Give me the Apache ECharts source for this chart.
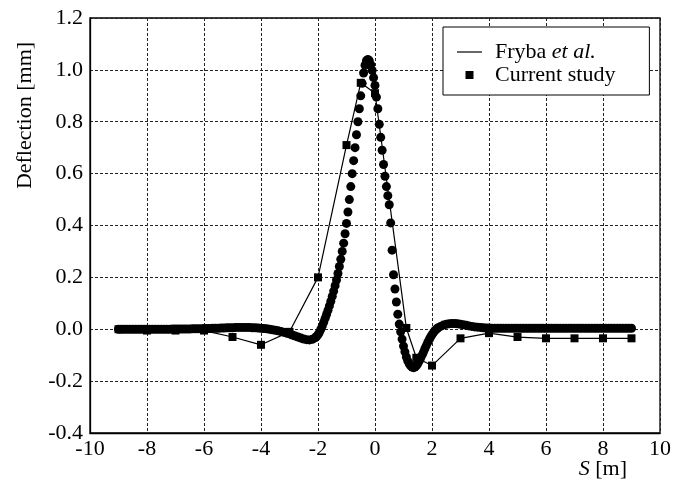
<!DOCTYPE html>
<html>
<head>
<meta charset="utf-8">
<script src="https://cdn.jsdelivr.net/npm/echarts@6/dist/echarts.min.js"></script>
<style>
html,body{margin:0;padding:0;background:#fff;}
#chart{width:674px;height:486px;}
</style>
</head>
<body>
<div id="chart"></div>
<script>
// Tick range
var xTicks = { min: -10, max: 10, step: 2 };
var yTicks = { min: -0.4, max: 1.2, step: 0.2 };

// Coarse series (thin line + squares): S [m]
var coarseS = [-9, -8, -7, -6, -5, -4, -3, -2, -1, -0.5, 0, 1.1, 1.45, 2, 3, 4, 5, 6, 7, 8, 9];
// Deflection [mm]
var coarseD = [0.0, -0.005, -0.005, -0.005, -0.03, -0.06, -0.01, 0.2, 0.71, 0.95, 0.91, 0.005, -0.11, -0.14, -0.035, -0.015, -0.03, -0.035, -0.035, -0.035, -0.035];

// Dense series (filled circles): [S, deflection]
var denseCurve = [
[-9.0,0],[-8.9,0],[-8.8,0],[-8.7,0],[-8.6,0],[-8.5,0],[-8.4,0],[-8.3,0],[-8.2,0],[-8.1,0],
[-8.0,0],[-7.9,0],[-7.8,0],[-7.7,0],[-7.6,0],[-7.5,0],[-7.4,0],[-7.3,0],[-7.2,0],[-7.1,0.001],
[-7.0,0.001],[-6.9,0.001],[-6.8,0.001],[-6.7,0.001],[-6.6,0.001],[-6.5,0.001],[-6.4,0.002],[-6.3,0.002],[-6.2,0.002],[-6.1,0.002],
[-6.0,0.003],[-5.9,0.003],[-5.8,0.003],[-5.7,0.004],[-5.6,0.004],[-5.5,0.004],[-5.4,0.005],[-5.3,0.005],[-5.2,0.006],[-5.1,0.006],
[-5.0,0.006],[-4.9,0.007],[-4.8,0.007],[-4.7,0.007],[-4.6,0.007],[-4.5,0.007],[-4.4,0.007],[-4.3,0.006],[-4.2,0.006],[-4.1,0.005],
[-4.0,0.004],[-3.9,0.003],[-3.8,0.002],[-3.7,0.0],[-3.6,-0.002],[-3.5,-0.004],[-3.4,-0.006],[-3.3,-0.009],[-3.2,-0.012],[-3.1,-0.015],
[-3.0,-0.018],[-2.9,-0.022],[-2.8,-0.026],[-2.7,-0.030],[-2.6,-0.034],[-2.5,-0.038],[-2.4,-0.040],[-2.3,-0.041],[-2.2,-0.039],[-2.1,-0.033],
[-2.05,-0.028],[-2.0,-0.021],[-1.95,-0.012],[-1.9,0.0],[-1.85,0.013],[-1.8,0.027],[-1.75,0.042],[-1.7,0.057],[-1.65,0.073],[-1.6,0.090],
[-1.55,0.108],[-1.5,0.127],[-1.45,0.147],[-1.4,0.168],[-1.35,0.190],[-1.3,0.215],[-1.25,0.242],[-1.2,0.270],[-1.15,0.300],[-1.1,0.332],
[-1.05,0.368],[-1.0,0.408],[-0.95,0.452],[-0.9,0.500],[-0.85,0.550],[-0.8,0.600],[-0.75,0.650],[-0.7,0.700],[-0.65,0.750],[-0.6,0.800],
[-0.55,0.850],[-0.5,0.900],[-0.45,0.948],[-0.4,0.988],[-0.35,1.018],[-0.3,1.035],[-0.25,1.040],[-0.2,1.035],[-0.15,1.020],[-0.1,0.998],
[-0.05,0.970],[0.0,0.940],[0.05,0.895],[0.1,0.850],[0.15,0.790],[0.2,0.740],[0.25,0.690],[0.3,0.635],[0.35,0.590],[0.4,0.550],
[0.45,0.515],[0.5,0.480],[0.55,0.410],[0.6,0.305],[0.65,0.210],[0.7,0.155],[0.75,0.105],[0.8,0.058],[0.85,0.020],[0.9,-0.010],
[0.95,-0.038],[1.0,-0.065],[1.05,-0.087],[1.1,-0.107],[1.15,-0.122],[1.2,-0.133],[1.25,-0.141],[1.3,-0.146],[1.35,-0.148],[1.4,-0.146],
[1.45,-0.141],[1.5,-0.133],[1.55,-0.123],[1.6,-0.112],[1.65,-0.100],[1.7,-0.088],[1.75,-0.075],[1.8,-0.063],[1.85,-0.051],[1.9,-0.040],
[1.95,-0.030],[2.0,-0.021],[2.05,-0.013],[2.1,-0.006],[2.15,0.0],[2.2,0.005],[2.3,0.011],[2.4,0.016],[2.5,0.019],[2.6,0.021],
[2.7,0.022],[2.8,0.022],[2.9,0.021],[3.0,0.019],[3.1,0.017],[3.2,0.015],[3.3,0.013],[3.4,0.011],[3.5,0.009],[3.6,0.008],
[3.7,0.007],[3.8,0.006],[3.9,0.005],[4.0,0.005],[4.1,0.004],[4.2,0.004],[4.3,0.004],[4.4,0.004],[4.5,0.004],[4.6,0.004],
[4.7,0.004],[4.8,0.004],[4.9,0.004],[5.0,0.004],[5.1,0.004],[5.2,0.004],[5.3,0.004],[5.4,0.004],[5.5,0.004],[5.6,0.004],
[5.7,0.004],[5.8,0.004],[5.9,0.004],[6.0,0.004],[6.1,0.004],[6.2,0.004],[6.3,0.004],[6.4,0.004],[6.5,0.004],[6.6,0.004],
[6.7,0.004],[6.8,0.004],[6.9,0.004],[7.0,0.004],[7.1,0.004],[7.2,0.004],[7.3,0.004],[7.4,0.004],[7.5,0.004],[7.6,0.004],
[7.7,0.004],[7.8,0.004],[7.9,0.004],[8.0,0.004],[8.1,0.004],[8.2,0.004],[8.3,0.004],[8.4,0.004],[8.5,0.004],[8.6,0.004],
[8.7,0.004],[8.8,0.004],[8.9,0.004],[9.0,0.004]
];

var seriesNames = ['Fryba et al.', 'Current study'];

var coarsePairs = coarseS.map(function (s, i) { return [s, coarseD[i]]; });
var FONT = '"Liberation Serif", "Times New Roman", serif';

var chart = echarts.init(document.getElementById('chart'), null, { renderer: 'canvas' });
chart.setOption({
  animation: false,
  backgroundColor: '#fff',
  grid: {
    left: 90, right: 14, top: 18, bottom: 53,
    containLabel: false, outerBoundsMode: 'none',
    show: true, borderColor: '#000', borderWidth: 1.3, backgroundColor: 'transparent'
  },
  xAxis: {
    type: 'value', min: xTicks.min, max: xTicks.max, interval: xTicks.step,
    axisLine: { show: true, onZero: false, lineStyle: { color: '#000', width: 1.3 } },
    axisTick: { show: false },
    axisLabel: { color: '#000', fontFamily: FONT, fontSize: 22, margin: 5 },
    splitLine: { show: true, lineStyle: { color: '#222', width: 1, type: [3, 2] } },
    name: '{i|S} [m]',
    nameLocation: 'end',
    nameGap: -33,
    nameMoveOverlap: false,
    nameTextStyle: {
      color: '#000', fontFamily: FONT, fontSize: 22, align: 'right', verticalAlign: 'top', padding: [25, 0, 0, 0],
      rich: { i: { fontFamily: FONT, fontSize: 22, fontStyle: 'italic', color: '#000' } }
    }
  },
  yAxis: {
    type: 'value', min: yTicks.min, max: yTicks.max, interval: yTicks.step,
    axisLine: { show: true, onZero: false, lineStyle: { color: '#000', width: 1.3 } },
    axisTick: { show: false },
    axisLabel: { color: '#000', fontFamily: FONT, fontSize: 22, margin: 7, formatter: function (v) { return v.toFixed(1); } },
    splitLine: { show: true, lineStyle: { color: '#222', width: 1, type: [3, 2] } },
    name: 'Deflection [mm]',
    nameLocation: 'middle',
    nameGap: 54,
    nameRotate: 90,
    nameMoveOverlap: false,
    nameTextStyle: { color: '#000', fontFamily: FONT, fontSize: 22, padding: [0, 0, 0, 220] }
  },
  legend: {
    data: [
      { name: seriesNames[0], icon: 'path://M0,0L25,0L25,1.2L0,1.2Z' },
      { name: seriesNames[1], icon: 'path://M0,0L10,0L10,10L0,10Z' }
    ],
    orient: 'vertical',
    left: 443, top: 27,
    itemWidth: 25, itemHeight: 8, itemGap: 1,
    symbolKeepAspect: true,
    padding: [14, 34, 9, 14],
    backgroundColor: '#fff',
    borderColor: '#000', borderWidth: 1,
    borderRadius: 0,
    selectedMode: false,
    itemStyle: { color: '#000', opacity: 1 },
    formatter: function (name) { return name === 'Fryba et al.' ? 'Fryba {i|et al.}' : name; },
    textStyle: {
      color: '#000', fontFamily: FONT, fontSize: 22, lineHeight: 22, padding: [0, 0, 0, 8],
      rich: { i: { fontFamily: FONT, fontSize: 22, fontStyle: 'italic', color: '#000', lineHeight: 22 } }
    }
  },
  series: [
    {
      name: 'Fryba et al.', type: 'line', data: coarsePairs, symbol: 'none', showSymbol: false,
      lineStyle: { color: '#000', width: 1.2 }, itemStyle: { color: '#000', opacity: 1 }, z: 2
    },
    {
      name: 'Current study', type: 'scatter', data: coarsePairs, symbol: 'rect', symbolSize: 8,
      itemStyle: { color: '#000', opacity: 1 }, z: 4
    },
    {
      name: 'dense', type: 'scatter', data: denseCurve, symbol: 'circle', symbolSize: 9,
      itemStyle: { color: '#000', opacity: 1 }, z: 3
    }
  ]
});
</script>
</body>
</html>
